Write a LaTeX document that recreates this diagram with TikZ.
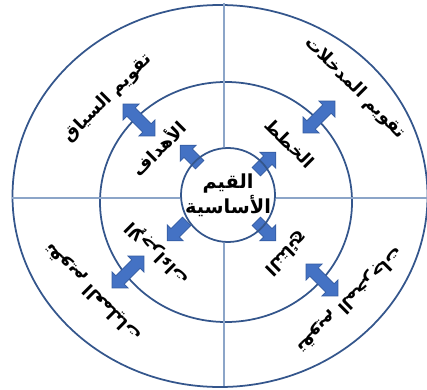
\documentclass[tikz,border=0pt]{standalone}
\usepackage{fontspec}
\newfontfamily\arabicfont[Script=Arabic]{DejaVu Sans}
\TeXXeTstate=1
\usetikzlibrary{shapes.geometric,shapes.arrows}
\definecolor{ringBlue}{RGB}{52,86,140}
\definecolor{axisBlue}{RGB}{140,165,200}
\definecolor{arrowBlue}{RGB}{68,114,196}
\definecolor{arrowEdge}{RGB}{50,90,160}
\tikzset{
  ring/.style={ellipse,draw=ringBlue,line width=1pt,inner sep=0pt},
  core/.style={circle,fill=white,minimum size=18.8mm,inner sep=0pt,align=center,font=\arabicfont\bfseries\fontsize{11}{14}\selectfont},
  core edge/.style={draw=ringBlue,line width=1pt},
  axis line/.style={draw=axisBlue,line width=0.6pt},
  twin arrow/.style={double arrow,fill=arrowBlue,draw=arrowEdge,line width=0.4pt,minimum height=9mm,double arrow head extend=1.1mm,inner sep=1.1mm},
  out arrow/.style={single arrow,fill=arrowBlue,draw=arrowEdge,line width=0.4pt,minimum height=5.5mm,single arrow head extend=1.1mm,inner sep=1.1mm},
  ring label/.style={font=\arabicfont\bfseries\fontsize{10}{12}\selectfont,inner sep=0pt}
}
\begin{document}
\begin{tikzpicture}[x=0.2mm,y=-0.2mm]
  \useasboundingbox (0,0) rectangle (427,389);
  \node[ring,minimum width=83mm,minimum height=76.4mm] (outer) at (220,196) {};
  \node[ring,minimum width=50.4mm,minimum height=48mm] (middle) at (226,202) {};
  \draw[axis line] (outer.west |- 0,198) -- (427,198);
  \draw[axis line] (224,3) -- (224,386);
  \node[core] (values) at (228,195) {\beginR القيم\endR\\\beginR الأساسية\endR};
  \node[out arrow,rotate=135] (toGoals) at (192,157) {};
  \node[out arrow,rotate=45] (toPlans) at (264,164) {};
  \node[out arrow,rotate=-135] (toActions) at (179,229) {};
  \node[out arrow,rotate=-45] (toOutcomes) at (264,229) {};
  \draw[core edge] (values.center) circle[radius=9.4mm];
  \node[twin arrow,rotate=135] (ctxArrow) at (139,120) {};
  \node[twin arrow,rotate=45] (inArrow) at (319,117) {};
  \node[twin arrow,rotate=45] (procArrow) at (128,272) {};
  \node[twin arrow,rotate=-45] (prodArrow) at (322,280) {};
  \node[ring label,rotate=45] (goals) at (158,148) {\beginR الأهداف\endR};
  \node[ring label,rotate=-45] (plans) at (290,143) {\beginR الخطط\endR};
  \node[ring label,rotate=135] (actions) at (158,253) {\beginR الإجراءات\endR};
  \node[ring label,rotate=-135] (outcomes) at (286,253) {\beginR النتائج\endR};
  \node[ring label,rotate=45] (context) at (108,98) {\beginR تقويم السياق\endR};
  \node[ring label,rotate=-45] (input) at (355,88) {\beginR تقويم المدخلات\endR};
  \node[ring label,rotate=135] (process) at (93,292) {\beginR تقويم العمليات\endR};
  \node[ring label,rotate=-135] (product) at (350,300) {\beginR تقويم المخرجات\endR};
\end{tikzpicture}
\end{document}
